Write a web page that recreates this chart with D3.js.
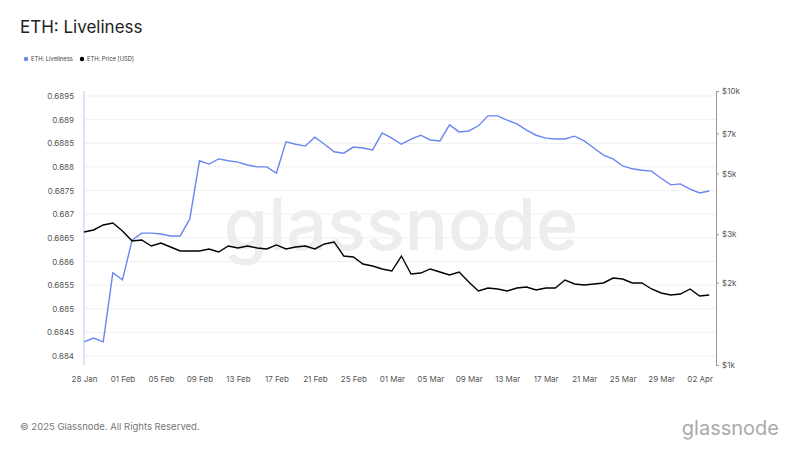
<!DOCTYPE html>
<html><head><meta charset="utf-8">
<script src="https://cdn.jsdelivr.net/npm/d3@7"></script>
<style>body{margin:0;background:#fff;font-family:Inter,"Noto Sans",sans-serif}</style>
</head><body><svg id="c" width="800" height="450"></svg>
<script>
const startDate = "2025-01-28";
const liveliness = [0.68430,0.68438,0.68430,0.68576,0.68561,0.68645,0.68660,0.68660,0.68658,0.68654,0.68654,0.68690,
0.68813,0.68806,0.68817,0.68813,0.68810,0.68804,0.68800,0.68800,0.68787,0.68853,0.68848,0.68844,0.68863,0.68848,
0.68832,0.68829,0.68842,0.68840,0.68836,0.68872,0.68861,0.68848,0.68859,0.68867,0.68857,0.68855,0.68889,0.68874,
0.68876,0.68887,0.68908,0.68908,0.68899,0.68891,0.68878,0.68867,0.68861,0.68859,0.68859,0.68865,0.68855,0.68840,
0.68825,0.68817,0.68802,0.68796,0.68793,0.68791,0.68776,0.68762,0.68764,0.68753,0.68745,0.68749];
const price = [3058,3110,3243,3298,3084,2835,2859,2719,2788,2696,2607,2607,2607,2651,2585,2719,2673,2719,2673,2651,
2742,2651,2696,2719,2651,2765,2812,2499,2478,2337,2298,2241,2203,2499,2148,2166,2241,2185,2130,2185,2009,1863,1910,
1894,1863,1910,1926,1878,1910,1910,2043,1975,1959,1975,1992,2077,2060,1992,1992,1894,1832,1801,1816,1894,1786,1801];
const leftTicks = [0.684,0.6845,0.685,0.6855,0.686,0.6865,0.687,0.6875,0.688,0.6885,0.689,0.6895];
const rightTicks = [1000,2000,3000,5000,7000,10000];
const rightLabels = ["$1k","$2k","$3k","$5k","$7k","$10k"];

const svg = d3.select("#c");
const t0 = new Date(startDate+"T00:00:00Z");
const day = 864e5;
const dates = liveliness.map((_,i)=>new Date(+t0+i*day));
const x = d3.scaleUtc().domain([t0, new Date(+t0+65.7*day)]).range([84,716]);
const yL = d3.scaleLinear().domain([0.684,0.6895]).range([356,96]);
const yR = d3.scaleLog().domain([1000,10000]).range([365,91]);

svg.append("text").attr("x",20).attr("y",33).attr("font-size",17).attr("fill","#222").text("ETH: Liveliness");
const lg = svg.append("g").attr("font-size",5.8).attr("fill","#444");
lg.append("circle").attr("cx",26).attr("cy",59).attr("r",2.2).attr("fill","#6b85f0");
lg.append("text").attr("x",31).attr("y",61).text("ETH: Liveliness");
lg.append("circle").attr("cx",82).attr("cy",59).attr("r",2.2).attr("fill","#000");
lg.append("text").attr("x",87).attr("y",61).text("ETH: Price [USD]");

svg.append("g").selectAll("line").data(leftTicks).join("line")
 .attr("x1",84).attr("x2",716).attr("y1",d=>yL(d)).attr("y2",d=>yL(d)).attr("stroke","#f0f0f0");
svg.append("text").attr("x",401).attr("y",250).attr("text-anchor","middle").attr("font-size",72)
 .attr("fill","#ededed").attr("font-weight",500).text("glassnode");

const ga = svg.append("g").attr("transform","translate(84,0)")
 .call(d3.axisLeft(yL).tickValues(leftTicks).tickSize(0).tickPadding(10).tickFormat(d=>d3.format("")(+d.toFixed(4))));
ga.select(".domain").remove();
svg.append("line").attr("x1",84).attr("x2",84).attr("y1",91).attr("y2",365).attr("stroke","#b8c6fa");
const gr = svg.append("g").attr("transform","translate(716,0)")
 .call(d3.axisRight(yR).tickValues(rightTicks).tickSize(3).tickFormat((d,i)=>rightLabels[i]));
gr.select(".domain").attr("stroke","#999");
gr.selectAll(".tick line").attr("stroke","#999");
const xt = d3.range(0,66,4).map(i=>new Date(+t0+i*day));
const gx = svg.append("g").attr("transform","translate(0,365)")
 .call(d3.axisBottom(x).tickValues(xt).tickSize(0).tickPadding(11).tickFormat(d3.utcFormat("%d %b")));
gx.select(".domain").remove();
svg.selectAll(".tick text").attr("fill","#555").attr("font-size",8).attr("font-family","Inter,sans-serif");

svg.append("path").datum(liveliness).attr("fill","none").attr("stroke","#6b85f0").attr("stroke-width",1.4)
 .attr("d",d3.line().x((d,i)=>x(dates[i])).y(d=>yL(d)));
svg.append("path").datum(price).attr("fill","none").attr("stroke","#000").attr("stroke-width",1.4)
 .attr("d",d3.line().x((d,i)=>x(dates[i])).y(d=>yR(d)));

svg.append("text").attr("x",20).attr("y",430).attr("font-size",9.5).attr("fill","#777").text("© 2025 Glassnode. All Rights Reserved.");
svg.append("text").attr("x",779).attr("y",435).attr("text-anchor","end").attr("font-size",20).attr("fill","#aaa").text("glassnode");
</script></body></html>
